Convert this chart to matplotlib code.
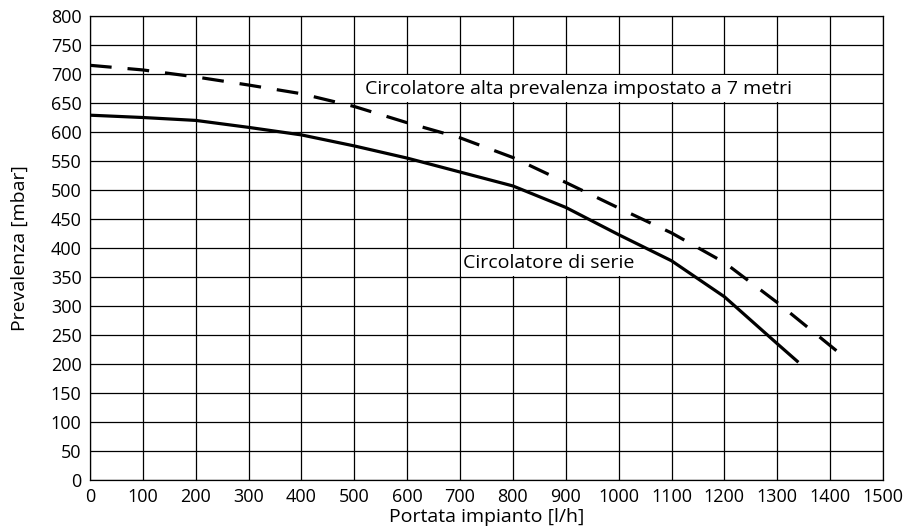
import matplotlib
matplotlib.use('Agg')
from matplotlib import pyplot as plt
from matplotlib.patches import Rectangle

# dati
portata = [0, 100, 200, 300, 400, 500, 600, 700, 800, 900, 1000, 1100, 1200, 1300, 1340]
prev_serie = [629, 625, 620, 608, 595, 576, 555, 531, 507, 470, 423, 378, 316, 235, 203]

portata_alta = [0, 100, 200, 300, 400, 500, 600, 700, 800, 900, 1000, 1100, 1200, 1300, 1420]
prev_alta = [715, 707, 695, 681, 666, 644, 616, 590, 556, 513, 469, 426, 375, 306, 217]

x_ticks = list(range(0, 1501, 100))
y_ticks = list(range(0, 801, 50))

plt.rcParams['font.family'] = ['Open Sans', 'DejaVu Sans']

fig = plt.figure(figsize=(9.06, 5.30), dpi=100)
ax = fig.add_axes([0.0993, 0.0943, 0.8753, 0.8755])

ax.plot(portata, prev_serie, color='black', lw=2.3, solid_capstyle='butt', zorder=3)
ax.plot(portata_alta, prev_alta, color='black', lw=2.3, dashes=(6.8, 5.0), zorder=3)

ax.set_xlim(0, 1500)
ax.set_ylim(0, 800)
ax.set_xticks(x_ticks)
ax.set_yticks(y_ticks)
ax.tick_params(length=0, labelsize=13, pad=6)
ax.grid(True, color='black', lw=0.9)
for s in ax.spines.values():
    s.set_color('black')
    s.set_linewidth(0.9)

# riquadri bianchi dietro le scritte (coprono la griglia)
ax.add_patch(Rectangle((502.5, 651.5), 895, 47, facecolor='white', edgecolor='none', zorder=2))
ax.add_patch(Rectangle((702, 351.5), 395.5, 47, facecolor='white', edgecolor='none', zorder=2))

ax.text(520, 675, 'Circolatore alta prevalenza impostato a 7 metri', fontsize=14,
        fontweight='medium', va='center', ha='left', zorder=4)
ax.text(705, 375, 'Circolatore di serie', fontsize=14,
        fontweight='medium', va='center', ha='left', zorder=4)

ax.set_xlabel('Portata impianto [l/h]', fontsize=14, fontweight='medium', labelpad=1)
ax.set_ylabel('Prevalenza [mbar]', fontsize=14, fontweight='medium', labelpad=16)

fig.savefig('out.png', dpi=100)
